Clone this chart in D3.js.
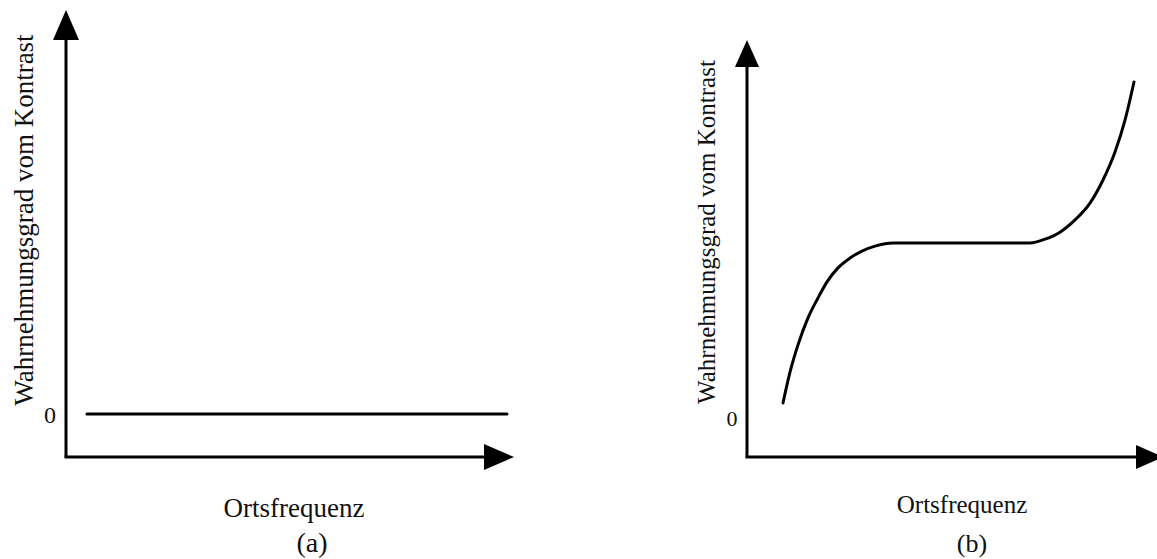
<!DOCTYPE html>
<html>
<head>
<meta charset="utf-8">
<script src="https://cdn.jsdelivr.net/npm/d3@7"></script>
<style>
  html, body { margin: 0; padding: 0; background: #fff; }
  svg { display: block; }
  text { font-family: "Liberation Serif", "Times New Roman", serif; fill: #111; }
</style>
</head>
<body>
<svg id="chart" width="1157" height="559"></svg>
<script>
// Labels
const yLabel = "Wahrnehmungsgrad vom Kontrast";
const xLabel = "Ortsfrequenz";
const captions = ["(a)", "(b)"];
const zeroTick = ["0"];

// Panel (a): constant perception at zero across all spatial frequencies
const lineAX = [4.75, 100];
const lineAY = [0, 0];

// Panel (b): rise, plateau, steep rise at high frequencies
const curveBX = [9, 10.75, 12.75, 15.25, 17.75, 20, 22.75, 25.75, 28.75, 32, 36.5, 53.25, 70.75, 74.5, 78.25, 82, 85.75, 89, 92, 94.5, 96.75];
const curveBY = [4.3, 13.1, 20.9, 28.6, 34.3, 38.9, 42.9, 45.7, 47.7, 49.1, 50, 50, 50, 51.1, 53.1, 56.6, 61.4, 68, 76, 85.1, 96];

const svg = d3.select("#chart");

const panels = [
  {
    x: d3.scaleLinear().domain([0, 100]).range([66, 507]),
    y: d3.scaleLinear().domain([0, 100]).range([414, 60]),
    axisY: 457, yTop: 10, xEnd: 514, head: 30, half: 13,
    xs: lineAX, ys: lineAY, curve: d3.curveLinear,
    labelSize: 27, labelX: 33, labelY: 220,
    zeroSize: 24, zeroX: 50, zeroDy: 9,
    xLabelY: 517, xLabelCx: 294, capY: 552, capCx: 312, caption: captions[0]
  },
  {
    x: d3.scaleLinear().domain([0, 100]).range([747, 1147]),
    y: d3.scaleLinear().domain([0, 100]).range([418, 68]),
    axisY: 457, yTop: 40, xEnd: 1163, head: 27, half: 12,
    xs: curveBX, ys: curveBY, curve: d3.curveMonotoneX,
    labelSize: 25, labelX: 715, labelY: 232,
    zeroSize: 22, zeroX: 732, zeroDy: 8,
    xLabelY: 513, xLabelCx: 962, capY: 552, capCx: 972, caption: captions[1]
  }
];

panels.forEach(p => {
  const g = svg.append("g");
  const x0 = p.x(0);

  // axes
  g.append("line")
    .attr("x1", x0).attr("y1", p.axisY)
    .attr("x2", x0).attr("y2", p.yTop + p.head - 1)
    .attr("stroke", "#000").attr("stroke-width", 3);
  g.append("line")
    .attr("x1", x0 - 1.5).attr("y1", p.axisY)
    .attr("x2", p.xEnd - p.head + 1).attr("y2", p.axisY)
    .attr("stroke", "#000").attr("stroke-width", 3);

  // arrowheads
  g.append("path")
    .attr("d", `M${x0},${p.yTop} L${x0 - p.half},${p.yTop + p.head} L${x0 + p.half},${p.yTop + p.head} Z`)
    .attr("fill", "#000");
  g.append("path")
    .attr("d", `M${p.xEnd},${p.axisY} L${p.xEnd - p.head},${p.axisY - p.half} L${p.xEnd - p.head},${p.axisY + p.half} Z`)
    .attr("fill", "#000");

  // data line
  const pts = p.xs.map((v, i) => [v, p.ys[i]]);
  g.append("path")
    .datum(pts)
    .attr("d", d3.line().x(d => p.x(d[0])).y(d => p.y(d[1])).curve(p.curve))
    .attr("fill", "none")
    .attr("stroke", "#000")
    .attr("stroke-width", 3)
    .attr("stroke-linecap", "round")
    .attr("stroke-linejoin", "round");

  // zero tick label
  g.append("text")
    .attr("x", p.zeroX).attr("y", p.y(0) + p.zeroDy)
    .attr("text-anchor", "middle")
    .attr("font-size", p.zeroSize)
    .text(zeroTick[0]);

  // y-axis label
  g.append("text")
    .attr("transform", `translate(${p.labelX},${p.labelY}) rotate(-90)`)
    .attr("text-anchor", "middle")
    .attr("font-size", p.labelSize)
    .text(yLabel);

  // x-axis label
  g.append("text")
    .attr("x", p.xLabelCx).attr("y", p.xLabelY)
    .attr("text-anchor", "middle")
    .attr("font-size", p.labelSize)
    .text(xLabel);

  // caption
  g.append("text")
    .attr("x", p.capCx).attr("y", p.capY)
    .attr("text-anchor", "middle")
    .attr("font-size", p.labelSize + 1)
    .text(p.caption);
});
</script>
</body>
</html>
